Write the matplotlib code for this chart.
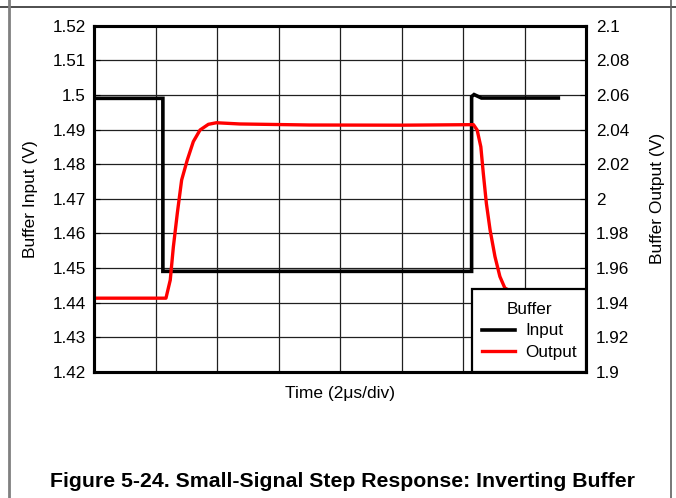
import matplotlib
matplotlib.use("Agg")
import matplotlib.pyplot as plt
from matplotlib.lines import Line2D
from matplotlib.patches import Rectangle

# Time axis in divisions (2 us per division)
input_t = [0.0, 1.12, 1.12, 6.14, 6.14, 6.18, 6.30, 7.55]
input_v = [1.499, 1.499, 1.449, 1.449, 1.4995, 1.5001, 1.4991, 1.4991]

output_t = [0.0, 1.17, 1.24, 1.29, 1.355, 1.425, 1.517, 1.615, 1.724, 1.86,
            1.99, 2.37, 3.5, 5.0, 6.17, 6.23, 6.29, 6.33, 6.38, 6.44, 6.52,
            6.60, 6.68, 6.90, 7.20, 7.55]
output_v = [1.9425, 1.9425, 1.953, 1.972, 1.9917, 2.0108, 2.0224, 2.033,
            2.0397, 2.043, 2.0439, 2.0432, 2.0426, 2.0425, 2.0428, 2.0397,
            2.030, 2.0147, 1.9973, 1.982, 1.9665, 1.955, 1.9484, 1.944,
            1.9427, 1.9425]

left_ticks = [1.42, 1.43, 1.44, 1.45, 1.46, 1.47, 1.48, 1.49, 1.50, 1.51, 1.52]
right_ticks = [1.90, 1.92, 1.94, 1.96, 1.98, 2.00, 2.02, 2.04, 2.06, 2.08, 2.10]
x_divs = [0, 1, 2, 3, 4, 5, 6, 7, 8]

plt.rcParams['font.family'] = ['Liberation Sans', 'DejaVu Sans']

W, H = 676, 498
fig = plt.figure(figsize=(W / 100, H / 100), dpi=100)
fig.patch.set_facecolor('white')

# page cell borders
fig.add_artist(Line2D([0, 1], [1 - 7.5 / H] * 2, color='#303030', lw=1.2))
fig.add_artist(Line2D([9 / W] * 2, [0, 1], color='#808080', lw=2.0))
fig.add_artist(Line2D([671 / W] * 2, [0, 1], color='#606060', lw=1.2))

left, right, top, bottom = 94, 586, 25.7, 371.7
ax = fig.add_axes([left / W, 1 - bottom / H, (right - left) / W, (bottom - top) / H])
ax2 = ax.twinx()


def px_to_axes(px, py):
    return (px - left) / (right - left), (bottom - py) / (bottom - top)


ax.set_xlim(0, 8)
ax.set_ylim(1.42, 1.52)
ax2.set_ylim(1.90, 2.10)
ax.set_xticks(x_divs)
ax.set_xticklabels([])
ax.set_yticks(left_ticks)
ax.set_yticklabels(['%g' % round(v, 2) for v in left_ticks])
ax2.set_yticks(right_ticks)
ax2.set_yticklabels(['%g' % round(v, 2) for v in right_ticks])

ax.grid(True, color='#202020', lw=0.9)
ax.set_axisbelow(True)
ax.tick_params(axis='x', length=0)
ax.tick_params(axis='y', direction='in', length=4, pad=6, labelsize=12.3)
ax2.tick_params(axis='y', direction='in', length=4, pad=7, labelsize=12.3)

for a in (ax, ax2):
    for s in a.spines.values():
        s.set_linewidth(2.2)
        s.set_color('black')

l_in, = ax.plot(input_t, input_v, color='black', lw=2.6, solid_joinstyle='miter', label='Input')
l_out, = ax2.plot(output_t, output_v, color='#ff0000', lw=2.4, label='Output')

ax.set_ylabel('Buffer Input (V)', fontsize=12.5)
ax.yaxis.set_label_coords((38 - left) / (right - left), 0.5)
ax2.set_ylabel('Buffer Output (V)', fontsize=12.5)
ax2.yaxis.set_label_coords((650 - left) / (right - left), 0.5)
ax.set_xlabel('Time (2\u03bcs/div)', fontsize=12.5)
ax.xaxis.set_label_coords(0.5, -0.04)

# legend box: white panel with black frame in the lower-right corner
bx0, by0 = px_to_axes(472, bottom)
bx1, by1 = px_to_axes(right, 289)
ax2.add_patch(Rectangle((bx0, by0), bx1 - bx0, by1 - by0, transform=ax2.transAxes,
                        facecolor='white', edgecolor='black', lw=1.6, zorder=5,
                        clip_on=False))
cx, cy = px_to_axes(529.5, 331)
leg = ax2.legend(handles=[l_in, l_out], title='Buffer', loc='center',
                 bbox_to_anchor=(cx, cy), bbox_transform=ax2.transAxes,
                 fontsize=12.3, title_fontsize=12.3, frameon=False,
                 handlelength=1.95, handletextpad=0.6,
                 labelspacing=0.36, borderpad=0.3)
leg.set_zorder(10)

fig.text(342 / W, 1 - 481 / H, 'Figure 5-24. Small-Signal Step Response: Inverting Buffer',
         ha='center', va='center', fontsize=15.3, fontweight='bold')

fig.savefig('out.png', dpi=100)
